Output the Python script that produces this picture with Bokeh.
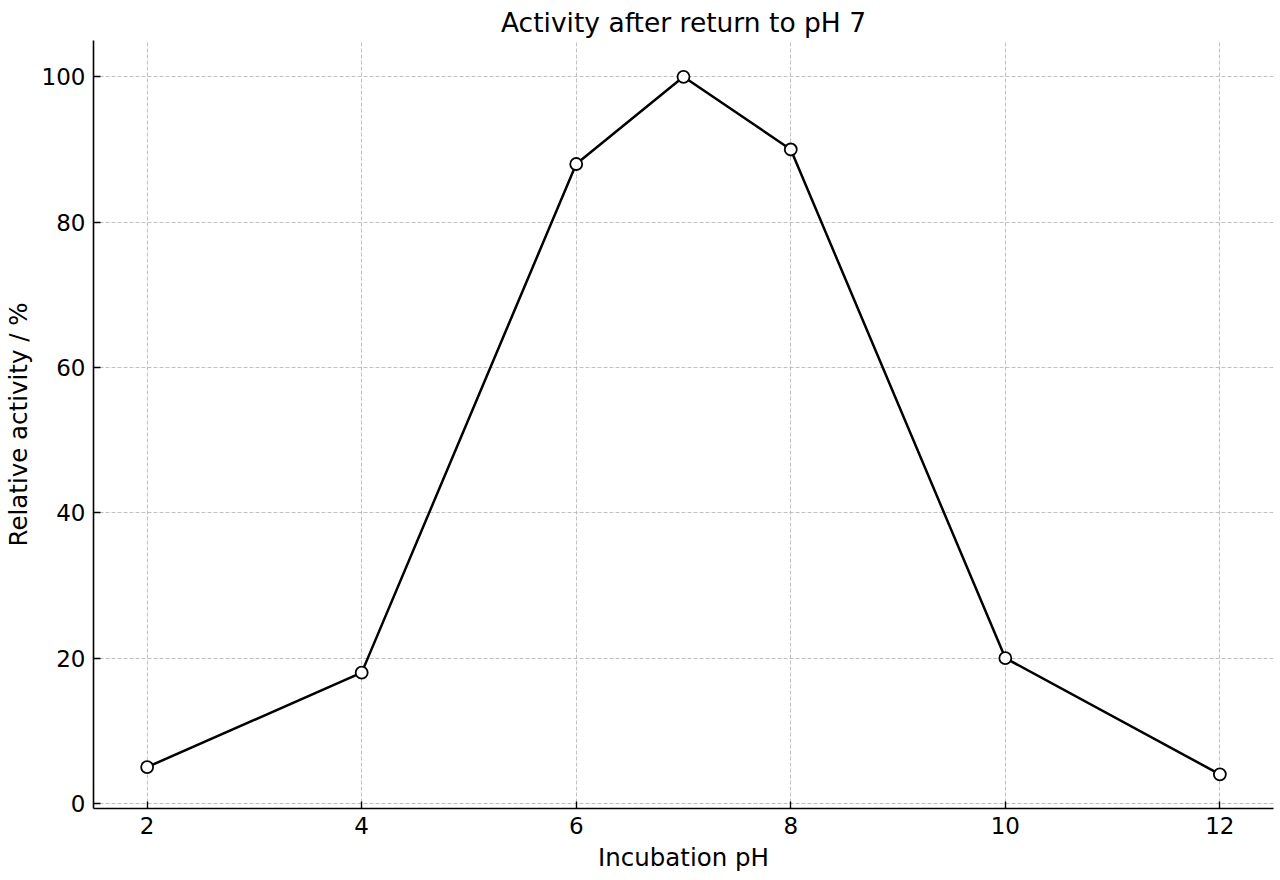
from bokeh.plotting import figure
from bokeh.models import Range1d, FixedTicker
from bokeh.embed import file_html
from bokeh.resources import INLINE

ph = [2, 4, 6, 7, 8, 10, 12]
activity = [5, 18, 88, 100, 90, 20, 4]
x_ticks = [2, 4, 6, 8, 10, 12]
y_ticks = [0, 20, 40, 60, 80, 100]

FONT = "DejaVu Sans"

p = figure(width=1280, height=880, output_backend="svg", toolbar_location=None,
           x_range=Range1d(1.5, 12.5), y_range=Range1d(-0.7, 105),
           title="Activity after return to pH 7")
p.min_border_left = 90
p.min_border_right = 7
p.min_border_top = 40
p.min_border_bottom = 72
p.outline_line_color = None
p.background_fill_color = "white"
p.border_fill_color = "white"

p.title.text_font = FONT
p.title.text_font_size = "26.5px"
p.title.text_font_style = "normal"
p.title.align = "center"
p.title.text_color = "black"
p.title.standoff = 6

for ax in (p.xaxis[0], p.yaxis[0]):
    ax.axis_line_color = "black"
    ax.axis_line_width = 1.6
    ax.major_tick_in = 7
    ax.major_tick_out = 0
    ax.major_tick_line_width = 1.4
    ax.major_tick_line_color = "black"
    ax.minor_tick_line_color = None
    ax.major_label_text_font = FONT
    ax.major_label_text_font_size = "23px"
    ax.major_label_text_color = "black"
    ax.axis_label_text_font = FONT
    ax.axis_label_text_font_size = "24.5px"
    ax.axis_label_text_font_style = "normal"
    ax.axis_label_text_color = "black"

p.xaxis.ticker = FixedTicker(ticks=x_ticks)
p.yaxis.ticker = FixedTicker(ticks=y_ticks)
p.xaxis.axis_label = "Incubation pH"
p.yaxis.axis_label = "Relative activity / %"
p.xaxis.major_label_standoff = 8
p.yaxis.major_label_standoff = 8
p.xaxis.axis_label_standoff = 6
p.yaxis.axis_label_standoff = 6

for g in (p.xgrid[0], p.ygrid[0]):
    g.grid_line_color = "#b0b0b0"
    g.grid_line_dash = "4 2"
    g.grid_line_width = 0.8

p.line(ph, activity, line_color="black", line_width=2.5)
p.scatter(ph, activity, size=12, fill_color="white", line_color="black", line_width=1.8)

open("out.html", "w").write(file_html(p, INLINE))
